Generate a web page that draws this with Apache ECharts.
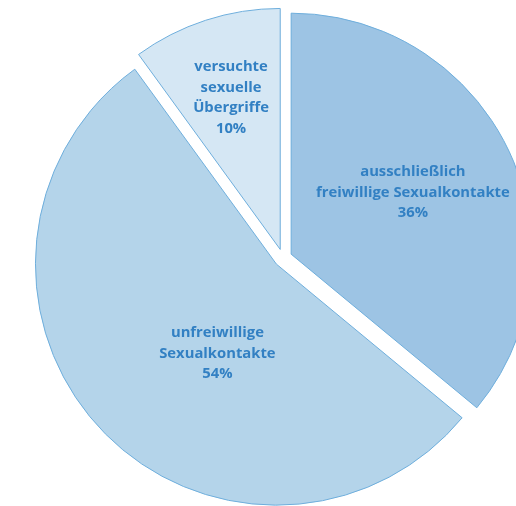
<!doctype html>
<html>
<head>
<meta charset="UTF-8">
<title>Sexualkontakte</title>
<script src="https://cdn.jsdelivr.net/npm/echarts@6/dist/echarts.min.js"></script>
<style>
  html, body { margin: 0; padding: 0; background: #fff; }
  #chart { width: 516px; height: 506px; }
</style>
</head>
<body>
<div id="chart"></div>
<script>
// Daten
var categories = ['ausschließlich\nfreiwillige Sexualkontakte', 'unfreiwillige\nSexualkontakte', 'versuchte\nsexuelle\nÜbergriffe'];
var values = [36, 54, 10];
var colors = ['#9dc4e4', '#b4d4ea', '#d5e7f4'];
// Feinkorrektur der Beschriftung (dx, dy)
var labelShift = [[10, -9], [31, 5], [-11, -34]];

var chart = echarts.init(document.getElementById('chart'));
var seriesData = categories.map(function (name, i) {
  return {
    name: name,
    value: values[i],
    selected: true,
    itemStyle: { color: colors[i] }
  };
});

chart.setOption({
  animation: false,
  series: [{
    type: 'pie',
    center: [283, 258],
    radius: 241,
    startAngle: 90,
    clockwise: true,
    selectedMode: 'multiple',
    selectedOffset: 9,
    itemStyle: { borderColor: '#6eaedc', borderWidth: 1 },
    label: {
      position: 'inside',
      formatter: '{b}\n{c}%',
      color: '#3280c3',
      fontFamily: 'Open Sans',
      fontWeight: 'bold',
      fontSize: 14.8,
      lineHeight: 20.5,
      align: 'center'
    },
    labelLayout: function (p) {
      var s = labelShift[p.dataIndex];
      return { dx: s[0], dy: s[1] };
    },
    labelLine: { show: false },
    emphasis: { disabled: true },
    select: { itemStyle: { borderColor: '#6eaedc', borderWidth: 1 } },
    data: seriesData
  }]
});
</script>
</body>
</html>
